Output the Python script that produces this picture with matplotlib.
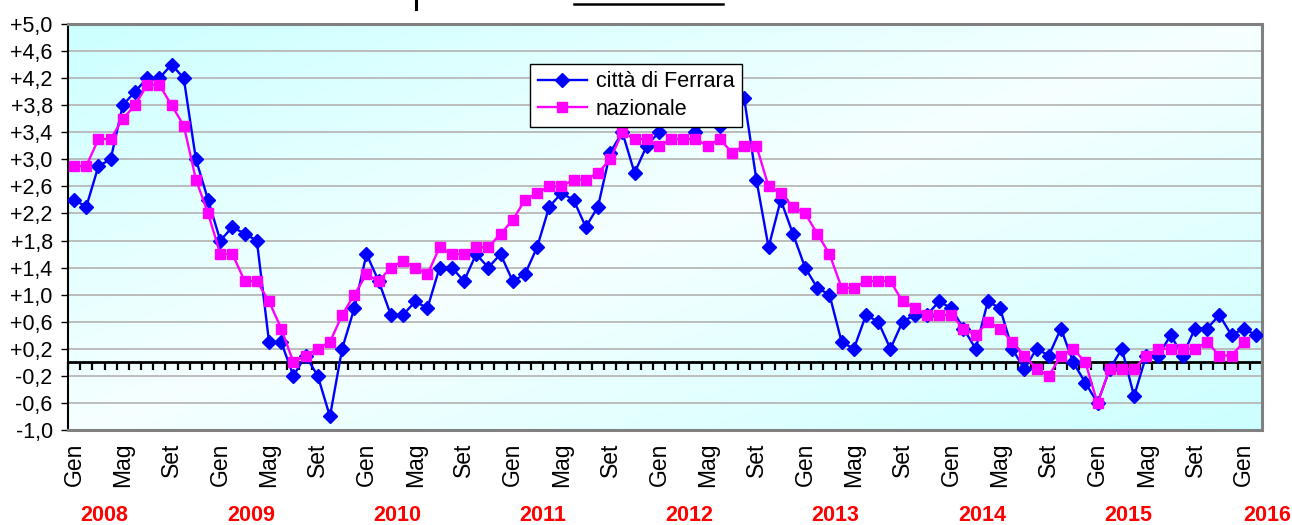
import numpy as np
import matplotlib.pyplot as plt
from matplotlib.ticker import FuncFormatter
from matplotlib.lines import Line2D

plt.rcParams['font.family'] = ['Liberation Sans', 'DejaVu Sans']

# monthly data, Gen 2008 onwards
month_names = ['Gen', 'Feb', 'Mar', 'Apr', 'Mag', 'Giu',
               'Lug', 'Ago', 'Set', 'Ott', 'Nov', 'Dic']
years = [2008, 2009, 2010, 2011, 2012, 2013, 2014, 2015, 2016]

ferrara = [
    2.4, 2.3, 2.9, 3.0, 3.8, 4.0, 4.2, 4.2, 4.4, 4.2, 3.0, 2.4,
    1.8, 2.0, 1.9, 1.8, 0.3, 0.3, -0.2, 0.1, -0.2, -0.8, 0.2, 0.8,
    1.6, 1.2, 0.7, 0.7, 0.9, 0.8, 1.4, 1.4, 1.2, 1.6, 1.4, 1.6,
    1.2, 1.3, 1.7, 2.3, 2.5, 2.4, 2.0, 2.3, 3.1, 3.4, 2.8, 3.2,
    3.4, 3.8, 3.7, 3.4, 3.6, 3.5, 3.8, 3.9, 2.7, 1.7, 2.4, 1.9,
    1.4, 1.1, 1.0, 0.3, 0.2, 0.7, 0.6, 0.2, 0.6, 0.7, 0.7, 0.9,
    0.8, 0.5, 0.2, 0.9, 0.8, 0.2, -0.1, 0.2, 0.1, 0.5, 0.0, -0.3,
    -0.6, -0.1, 0.2, -0.5, 0.1, 0.1, 0.4, 0.1, 0.5, 0.5, 0.7, 0.4,
    0.5, 0.4]

nazionale = [
    2.9, 2.9, 3.3, 3.3, 3.6, 3.8, 4.1, 4.1, 3.8, 3.5, 2.7, 2.2,
    1.6, 1.6, 1.2, 1.2, 0.9, 0.5, 0.0, 0.1, 0.2, 0.3, 0.7, 1.0,
    1.3, 1.2, 1.4, 1.5, 1.4, 1.3, 1.7, 1.6, 1.6, 1.7, 1.7, 1.9,
    2.1, 2.4, 2.5, 2.6, 2.6, 2.7, 2.7, 2.8, 3.0, 3.4, 3.3, 3.3,
    3.2, 3.3, 3.3, 3.3, 3.2, 3.3, 3.1, 3.2, 3.2, 2.6, 2.5, 2.3,
    2.2, 1.9, 1.6, 1.1, 1.1, 1.2, 1.2, 1.2, 0.9, 0.8, 0.7, 0.7,
    0.7, 0.5, 0.4, 0.6, 0.5, 0.3, 0.1, -0.1, -0.2, 0.1, 0.2, 0.0,
    -0.6, -0.1, -0.1, -0.1, 0.1, 0.2, 0.2, 0.2, 0.2, 0.3, 0.1, 0.1,
    0.3]

n = len(ferrara)
ymin, ymax = -1.0, 5.0

W, H = 1292, 525
fig = plt.figure(figsize=(W / 100, H / 100), dpi=100)
ax = fig.add_axes([68 / W, 1 - 430 / H, (1262 - 68) / W, (430 - 24) / H])

# diagonal gradient background
gx, gy = np.meshgrid(np.linspace(0, 1, 300), np.linspace(0, 1, 300))
t = (gx + gy) / 2
light = 1 - np.abs(2 * t - 1)
red = (204 + 42 * light) / 255
img = np.dstack([red, np.ones_like(red), np.ones_like(red)])
ax.imshow(img, extent=[0, 1, 0, 1], transform=ax.transAxes,
          aspect='auto', zorder=0, interpolation='bilinear')

ax.plot(np.arange(len(ferrara)), ferrara, color='#0000ff', lw=1.7,
        marker='D', ms=6.8, label='città di Ferrara', zorder=3)
ax.plot(np.arange(len(nazionale)), nazionale, color='#ff00ff', lw=1.7,
        marker='s', ms=7, label='nazionale', zorder=4)

ax.set_xlim(-0.5, n - 0.5)
ax.set_ylim(ymin, ymax)

# y axis
ax.set_yticks(np.arange(ymin, ymax + 0.01, 0.4))
ax.yaxis.set_major_formatter(FuncFormatter(lambda v, p: f'{v:+.1f}'.replace('.', ',')))
ax.yaxis.grid(True, color='#b8b8b8', lw=1.3, zorder=0.5)
ax.set_axisbelow(True)
ax.tick_params(axis='y', direction='out', length=5, width=1, pad=6,
               labelsize=15.5, colors='black')

# x axis: month labels every 4 months
xt = list(range(0, n, 4))
ax.set_xticks(xt)
ax.set_xticklabels([month_names[i % 12] for i in xt], rotation=90,
                   va='top', ha='center')
ax.tick_params(axis='x', length=0, pad=9, labelsize=16.5)

for side in ['top', 'right', 'bottom']:
    ax.spines[side].set_color('#808080')
    ax.spines[side].set_linewidth(2.2)
ax.spines['left'].set_color('black')
ax.spines['left'].set_linewidth(1.5)

# zero line with monthly ticks
zero_frac = (0 - ymin) / (ymax - ymin)
sec = ax.secondary_xaxis(zero_frac)
sec.set_xticks(np.arange(-0.5, n, 1))
sec.tick_params(direction='out', length=6, width=1.6, labelbottom=False,
                labeltop=False, colors='black')
sec.spines['bottom'].set_linewidth(2)
sec.spines['bottom'].set_color('black')
sec.set_zorder(1)

# year labels
for i, yr in enumerate(years):
    ax.text(min(12 * i + 2.5, n - 0.1), -0.21, str(yr),
            transform=ax.get_xaxis_transform(),
            ha='center', va='center', color='red', fontsize=15.5,
            fontweight='bold', clip_on=False)

leg = ax.legend(loc='upper left', bbox_to_anchor=(0.387, 0.902),
                fontsize=15.5, frameon=True, fancybox=False,
                edgecolor='black', framealpha=1, borderpad=0.35,
                labelspacing=0.3, handlelength=2.3, handletextpad=0.4,
                borderaxespad=0)
leg.get_frame().set_linewidth(1)
leg.set_zorder(10)

# clipped title fragment at the top edge
fig.add_artist(Line2D([574 / W, 723 / W], [1 - 4 / H, 1 - 4 / H],
                      transform=fig.transFigure, color='black', lw=1.8))
fig.add_artist(Line2D([416 / W, 416 / W], [1, 1 - 9 / H],
                      transform=fig.transFigure, color='black', lw=2.2))

fig.savefig('out.png', dpi=100)
